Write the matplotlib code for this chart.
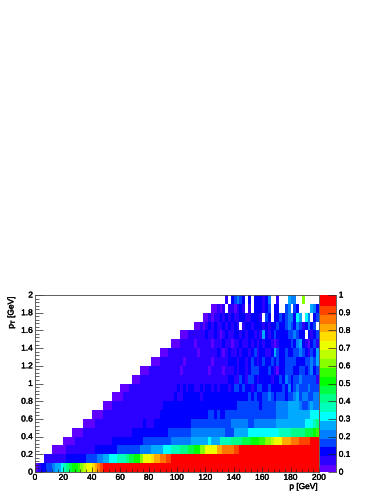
import numpy as np
import matplotlib
matplotlib.use('Agg')
import matplotlib.pyplot as plt
import matplotlib.patheffects as pe
from matplotlib.colors import ListedColormap, BoundaryNorm

plt.rcParams['font.family'] = ['Liberation Sans', 'DejaVu Sans']
plt.rcParams['mathtext.default'] = 'regular'

n = np.nan

#ROOT palette, 20 contours
palette = ['#6000ff', '#2c00ff', '#0000ff', '#0044ff', '#0080ff', '#00aaff', '#00ffff', '#00ffbb',
           '#00ff88', '#00ff44', '#00ff00', '#33ff00', '#88ff00', '#bbff00', '#eeff00', '#ffdd00',
           '#ffaa00', '#ff7700', '#ff4400', '#ff0000']

x_edges = [i * 2 for i in range(101)]
y_edges = [i * 0.1 for i in range(21)]
x_ticks = [0, 20, 40, 60, 80, 100, 120, 140, 160, 180, 200]
y_ticks = [0, 0.2, 0.4, 0.6, 0.8, 1, 1.2, 1.4, 1.6, 1.8, 2]
y_labels = ['0', '0.2', '0.4', '0.6', '0.8', '1', '1.2', '1.4', '1.6', '1.8', '2']
z_ticks = [0, 0.1, 0.2, 0.3, 0.4, 0.5, 0.6, 0.7, 0.8, 0.9, 1]
z_labels = ['0', '0.1', '0.2', '0.3', '0.4', '0.5', '0.6', '0.7', '0.8', '0.9', '1']

#first filled p bin of each pT row
first_bin = [0, 3, 6, 10, 13, 17, 20, 24, 27, 30, 34, 37, 41, 44, 48, 51, 56, 59, 62, 67]

#efficiency in percent, one list per pT row, starting at first_bin
row_00 = [3, 8, 13, 13, 18, 18, 23, 28, 28, 33, 38, 43, 48, 53, 53, 58, 63, 68, 73, 73, 78, 83, 88, 93] + [98] * 76
row_01 = [8] * 8 + [13] * 7 + [18] * 4 + [23] * 2 + [28] * 2 + [33] * 3 + [38] * 3 + [43, 48, 48, 53, 53, 63, 73, 73, 73,
          78, 83, 83, 88, 88, 93, 93] + [98] * 52
row_02 = [3] * 5 + [8] * 10 + [13] * 8 + [18] * 8 + [23] * 4 + [28] * 4 + [33] * 3 + [38] * 3 + [43] * 3 + [48, 48, 53, 53,
          63, 63, 73, 73, 73, 73, 83, 83, 88, 88, 88, 88, 93, 93] + [98] * 28
row_03 = [3] * 4 + [8] * 13 + [13] * 11 + [18] * 10 + [23] * 7 + [28] * 6 + [33, 28, 28, 28, 38, 38, 38, 38, 43, 43, 43, 43,
          48, 48, 48, 53, 53, 53, 58, 58, 63, 63, 68, 73, 73, 73, 83, 83, 83, 88, 88, 88, 93, 93, 93, 93, 98, 98, 98]
row_04 = [3] * 4 + [8] * 17 + [13] * 13 + [18] * 8 + [23] * 12 + [18, 18, 18, 28, 28, 28, 28, 28] + [33] * 11 + [38] * 4 + [43] * 5 + [48, 48, 48, 53, 58]
row_05 = [3] * 4 + [8] * 17 + [13, 8, 8, 8] + [13] * 13 + [18] * 14 + [23] * 6 + [18, 18] + [23] * 8 + [28] * 10 + [33, 33, 33, 38, 43]
row_06 = [3] * 4 + [8] * 20 + [13] * 17 + [18, 18, 13, 18, 13, 13, 18, 18] + [18] * 16 + [23] * 4 + [28] * 8 + [33, 33, 33]
row_07 = [3] * 3 + [8] * 18 + [13] * 26 + [18] * 8 + [13] + [18] * 5 + [23] * 4 + [28] * 4 + [23, 18, 18, 23, 28, 23, 23]
row_08 = [3, 3, 3, 3, 8, 8, 8, 8, 8, 8, 8, 8, 8, 8, 8, 8, 8, 8, 8, 8, 8, 8, 13, 8, 8, 13, 13, 13, 13, 13,
          13, 8, 13, 13, 13, 13, 13, 13, 13, 13, 13, 13, 13, 13, 13, 13, 13, 13, 18, 13, 18, 13, 13, 18, 18, 23, 18, 13, 18, 18,
          18, 13, 18, 18, 23, 28, 18, 23, 23, 18, 18, 23, 23]
row_09 = [3, 3, 3, 8, 8, 8, 8, 8, 8, 8, 8, 8, 8, 8, 8, 8, 8, 8, 8, 8, 13, 8, 13, 8, 13, 13, 8, 8, 13, 8,
          13, 13, 8, 13, 8, 13, 13, 13, 8, 13, 18, 18, 13, 18, 13, 13, 8, 13, 18, 18, 13, 13, 18, 13, 13, 13, 13, 18, 13, 23,
          13, 18, 23, 18, 18, 18, 23, 18, 18, 18]
row_10 = [3, 3, 3, 8, 8, 8, 8, 8, 8, 8, 8, 8, 8, 8, 8, 8, 8, 8, 8, 8, 8, 8, 8, 8, 8, 8, 8, 8, 8, 8,
          8, 8, 8, 8, 13, 13, 8, 8, 18, 13, 8, 18, 18, 13, 8, 13, 13, 13, 13, 8, 13, 13, 18, 13, 23, 18, 13, 18, 18, 23,
          18, 18, 18, 18, 18, 8]
row_11 = [3, 3, 3, 8, 8, 8, 8, 8, 8, 8, 8, 8, 8, 8, 3, 8, 8, 8, 8, 8, 8, 8, 8, 8, 3, 8, 8, 8, 8, 3,
          8, 8, 8, 13, 8, 13, 13, 8, 13, 18, 18, 18, 13, 13, 13, 18, 13, 8, 3, 13, 13, 18, 18, 18, 13, 13, 18, 18, 13, 18,
          23, 13, 18]
row_12 = [3, 3, 3, 8, 8, 8, 8, 8, 8, 8, 8, 3, 8, 8, 8, 8, 8, 8, 8, 8, 8, 3, 8, 8, 8, 8, 8, 13, 13, 13,
          8, 13, 13, 8, 13, 18, 13, 8, 13, 18, 13, 13, 18, 13, 18, 13, 13, 18, 18, 18, 18, 13, 13, 13, 18, 18, 23, 18, 28]
row_13 = [3, 3, 3, 8, 8, 8, 8, 8, 8, 8, 8, 8, 8, 3, 8, 8, 8, 8, 8, 8, 13, 8, 3, 8, 13, 8, 8, 13, 8, 13,
          13, 8, 13, 18, 8, 13, 13, 8, 8, 13, 28, 18, 13, 13, 18, 13, 13, 18, 18, 23, 18, 13, 8, 18, 13, 28]
row_14 = [3, 3, 3, 8, 8, 8, 8, 8, 3, 8, 8, 8, 8, 8, 3, 8, 8, 8, 13, 8, 8, 3, 8, 8, 13, 8, 8, 13, 8, 13,
          8, 13, 8, 13, 13, 8, 3, 8, 13, 13, 13, 13, 18, 13, 23, 28, 13, 8, 3, 13, 18, 8]
row_15 = [3, 3, 3, 8, 8, 8, 8, 8, 8, 13, 8, 8, 13, 8, 3, 8, 13, 8, 8, 13, 13, 8, 13, 8, 13, 13, 8, 13, 8, 28,
          13, 8, 13, 18, 13, 13, 13, 13, 18, 18, 23, 18, 13, 13, n, 13, 8, 13, 18]
row_16 = [3, 3, 8, 3, 8, 13, 8, 13, 8, 8, 13, 8, 13, 8, 13, 8, n, 8, 13, 13, 8, 13, 13, 13, 8, 13, 8, 13, 13, 18,
          13, 13, 18, 23, 18, 13, 23, 18, 8, 13, 23, 13, 18, n]
row_17 = [3, 3, 8, 3, 8, 8, 13, 8, 13, 8, 13, 8, 8, 13, 13, 8, 8, 13, 13, 13, 8, n, 18, 13, n, 13, 13, 18, 13, 18,
          23, 23, 13, 33, 28, n, 33, 23, n, 13, 18]
row_18 = [3, 3, 8, 3, 8, n, 8, 8, 3, 8, 13, 8, n, 8, n, 13, 13, 13, 8, 13, 18, n, 13, 13, n, n, 18, 23, n, 18,
          13, n, n, n, n, 28, 23, 13]
row_19 = [8, n, 13, 18, 23, 18, 13, n, 13, n, 13, 13, 13, 8, 13, 23, n, n, 8, n, n, n, 28, 23, 23, n, n, 63, n, n,
          n, n, n]

rows = [row_00, row_01, row_02, row_03, row_04, row_05, row_06, row_07, row_08, row_09,
        row_10, row_11, row_12, row_13, row_14, row_15, row_16, row_17, row_18, row_19]

eff = np.full((20, 100), np.nan)
for k, r in enumerate(rows):
    vals = r[:100 - first_bin[k]]
    eff[k, first_bin[k]:first_bin[k] + len(vals)] = vals
eff = eff / 100.0

W, H = 382.0, 494.0
fig = plt.figure(figsize=(3.82, 4.94), dpi=100)
ax = fig.add_axes([35 / W, 1 - 472 / H, 284 / W, 177 / H])
cax = fig.add_axes([320 / W, 1 - 472 / H, 16 / W, 177 / H])

cmap = ListedColormap(palette)
norm = BoundaryNorm(np.linspace(0, 1, 21), cmap.N)
mesh = ax.pcolormesh(x_edges, y_edges, eff, cmap=cmap, norm=norm, antialiased=True, linewidth=0)
cb = fig.colorbar(mesh, cax=cax, spacing='proportional')

ax.set_xlim(0, 200)
ax.set_ylim(0, 2)
for s in ax.spines.values():
    s.set_linewidth(0.6)
    s.set_color('#444444')

ax.set_xticks(x_ticks)
ax.set_xticks(np.arange(0, 201, 4), minor=True)
ax.set_yticks(y_ticks)
ax.set_yticklabels(y_labels)
ax.set_yticks(np.arange(0, 2.01, 0.04), minor=True)
ax.tick_params(axis='x', which='major', direction='in', length=3.8, width=0.5, labelsize=6, pad=2, color='#222222')
ax.tick_params(axis='x', which='minor', direction='in', length=1.9, width=0.5, color='#222222')
ax.tick_params(axis='y', which='major', direction='in', length=6, width=0.5, labelsize=6, pad=1.5, color='#222222')
ax.tick_params(axis='y', which='minor', direction='in', length=3, width=0.5, color='#222222')

cb.outline.set_visible(False)
cb.solids.set_edgecolor('face')
cb.set_ticks(z_ticks)
cb.set_ticklabels(z_labels)
cb.minorticks_off()
cax.spines['right'].set_visible(True)
cax.spines['right'].set_linewidth(0.6)
cax.spines['right'].set_color('#444444')
cax.spines['bottom'].set_visible(False)
cax.tick_params(axis='y', which='major', direction='in', length=6, width=0.5, labelsize=6, pad=2, color='#222222')

t1 = fig.text(318 / W, 1 - 487.5 / H, 'p [GeV]', ha='right', va='center', fontsize=6)
t2 = fig.text(12 / W, 1 - 295 / H, 'p$_{T}$ [GeV]', rotation=90, ha='center', va='top', fontsize=6)

#text is a bit heavier in the original
bold = [pe.withStroke(linewidth=0.25, foreground='black')]
for t in ax.get_xticklabels() + ax.get_yticklabels() + cax.get_yticklabels() + [t1, t2]:
    t.set_path_effects(bold)

fig.savefig('out.png', dpi=100)
